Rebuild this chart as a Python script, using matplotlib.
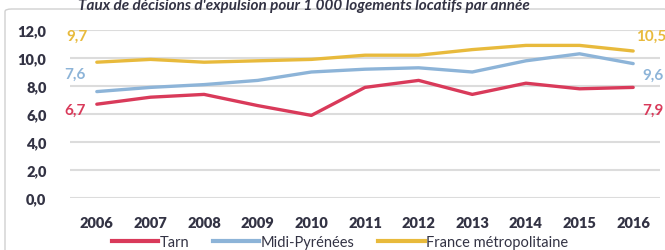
import matplotlib
matplotlib.use("Agg")
import matplotlib.pyplot as plt
from matplotlib.patches import FancyBboxPatch
from matplotlib.lines import Line2D

years = ["2006", "2007", "2008", "2009", "2010", "2011", "2012", "2013", "2014", "2015", "2016"]
tarn = [6.7, 7.2, 7.4, 6.6, 5.9, 7.9, 8.4, 7.4, 8.2, 7.8, 7.9]
midi = [7.6, 7.9, 8.1, 8.4, 9.0, 9.2, 9.3, 9.0, 9.8, 10.3, 9.6]
france = [9.7, 9.9, 9.7, 9.8, 9.9, 10.2, 10.2, 10.6, 10.9, 10.9, 10.5]
yticks = [0, 2, 4, 6, 8, 10, 12]
ytick_labels = ["0,0", "2,0", "4,0", "6,0", "8,0", "10,0", "12,0"]
series_names = ["Tarn", "Midi-Pyrénées", "France métropolitaine"]
title = "Taux de décisions d'expulsion pour 1 000 logements locatifs par année"

RED = "#D93A5A"
BLUE = "#8DB4D8"
YEL = "#E8BA3C"
TXT = "#333344"

plt.rcParams['font.family'] = ['Lato', 'DejaVu Sans']

W, H = 665, 251
fig = plt.figure(figsize=(W / 100, H / 100), dpi=100)

# border box
box = FancyBboxPatch((5 / W, -0.2), 1.0, 1 - 10 / H + 0.2,
                     boxstyle="round,pad=0,rounding_size=0.01",
                     transform=fig.transFigure, facecolor="white",
                     edgecolor="#D0D0D0", linewidth=1.0, zorder=0)
fig.patches.append(box)

fig.text(530 / W, 1 - 6 / H, title, ha="right", va="center", fontsize=11,
         fontweight="bold", style="italic", color=TXT)

left, right = 70 / W, 660 / W
bottom, top = 1 - 199 / H, 1 - 31 / H
ax = fig.add_axes([left, bottom, right - left, top - bottom])
ax.set_zorder(2)
ax.set_facecolor("none")
x = list(range(len(years)))
ax.plot(x, tarn, color=RED, lw=2.4, solid_capstyle="round", zorder=3)
ax.plot(x, midi, color=BLUE, lw=2.4, solid_capstyle="round", zorder=3)
ax.plot(x, france, color=YEL, lw=2.4, solid_capstyle="round", zorder=3)

ax.set_xlim(-0.5, len(years) - 0.5)
ax.set_ylim(0, 12)
ax.set_yticks(yticks)
ax.set_yticklabels(ytick_labels)
ax.set_xticks(x)
ax.set_xticklabels(years)
for s in ax.spines.values():
    s.set_visible(False)
ax.grid(axis="y", color="#DCDCDC", lw=1.5, zorder=0)
ax.tick_params(length=0, labelsize=10.5, colors=TXT)
ax.tick_params(axis="y", pad=17)
ax.tick_params(axis="x", pad=13)
for lab in ax.get_xticklabels() + ax.get_yticklabels():
    lab.set_fontweight("heavy")

def fmt(v):
    return f"{v:.1f}".replace(".", ",")

lab_kw = dict(fontsize=11, fontweight="bold", textcoords="offset points")
# left labels
ax.annotate(fmt(france[0]), (0, france[0]), xytext=(-14, 19), ha="center", va="center", color=YEL, **lab_kw)
ax.annotate(fmt(midi[0]), (0, midi[0]), xytext=(-16, 13), ha="center", va="center", color=BLUE, **lab_kw)
ax.annotate(fmt(tarn[0]), (0, tarn[0]), xytext=(-16, -4), ha="center", va="center", color=RED, **lab_kw)
# right labels
n = len(years) - 1
ax.annotate(fmt(france[n]), (n, france[n]), xytext=(13, 11), ha="center", va="center", color=YEL, **lab_kw)
ax.annotate(fmt(midi[n]), (n, midi[n]), xytext=(14, -8), ha="center", va="center", color=BLUE, **lab_kw)
ax.annotate(fmt(tarn[n]), (n, tarn[n]), xytext=(14, -16), ha="center", va="center", color=RED, **lab_kw)

handles = [Line2D([], [], color=c, lw=3) for c in (RED, BLUE, YEL)]
leg = fig.legend(handles, series_names, loc="center", bbox_to_anchor=(340 / W, 1 - 243 / H),
                 ncol=3, frameon=False, fontsize=10.5, handlelength=3.2, handletextpad=0.1,
                 columnspacing=1.6, labelcolor=TXT)

fig.savefig("out.png", dpi=100)
